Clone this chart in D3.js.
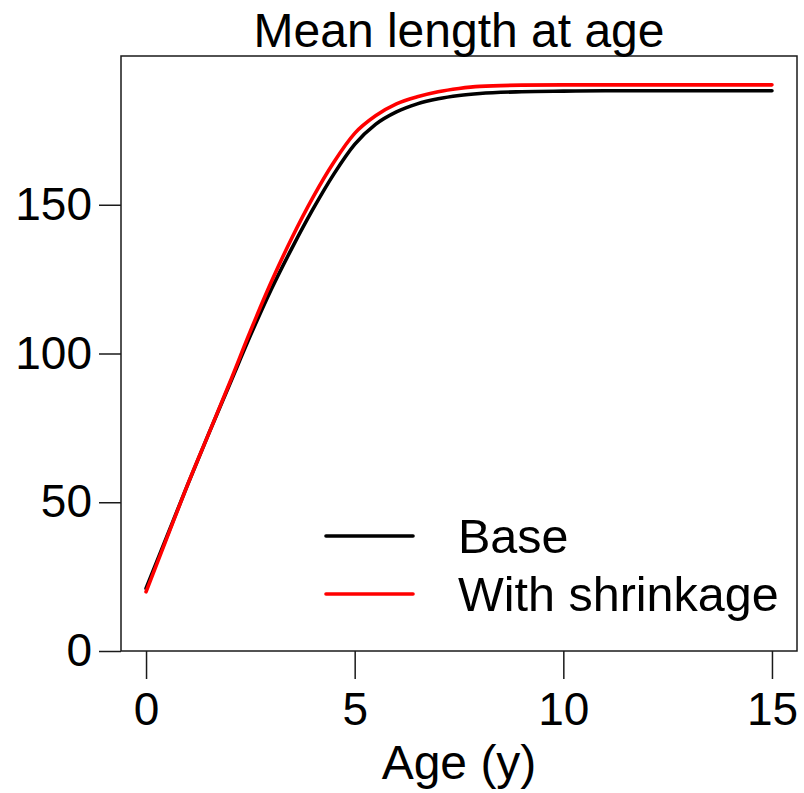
<!DOCTYPE html>
<html>
<head>
<meta charset="utf-8">
<script src="https://cdn.jsdelivr.net/npm/d3@7"></script>
<style>
  html, body { margin: 0; padding: 0; background: #fff; }
  text { font-family: "Liberation Sans", Arial, sans-serif; fill: #000; }
</style>
</head>
<body>
<svg id="chart" width="804" height="793"></svg>
<script>
// Mean length at age (cm) for the base run and the run with shrinkage
const ages = [0, 0.5, 1, 1.5, 2, 2.5, 3, 3.5, 4, 4.5, 5, 5.5, 6, 6.5, 7, 7.5, 8, 9, 10, 11, 12, 13, 14, 15];
const baseLength = [21.0, 38.5, 56.0, 73.0, 89.5, 106.0, 121.5, 135.5, 148.5, 160.3, 170.3, 177.0, 181.2, 183.9, 185.6, 186.7, 187.4, 188.0, 188.2, 188.3, 188.3, 188.3, 188.3, 188.3];
const shrinkLength = [19.9, 38.0, 56.0, 73.0, 90.0, 107.5, 124.0, 139.0, 152.5, 164.3, 174.0, 179.9, 183.9, 186.3, 188.0, 189.1, 189.8, 190.2, 190.3, 190.3, 190.3, 190.3, 190.3, 190.3];

const xTicks = [0, 5, 10, 15];
const yTicks = [0, 50, 100, 150];
const seriesNames = ["Base", "With shrinkage"];
const seriesColors = ["#000000", "#ff0000"];

const svg = d3.select("#chart");
const plot = { left: 121, right: 797, top: 56, bottom: 651 };

// x range padded 4% either side, y axis runs exactly 0–200
const x = d3.scaleLinear().domain([-0.6, 15.6]).range([plot.left, plot.right]);
const y = d3.scaleLinear().domain([0, 200]).range([plot.bottom, plot.top]);

// Curves
const line = d3.line()
  .x(d => x(d[0]))
  .y(d => y(d[1]))
  .curve(d3.curveMonotoneX);

const series = [baseLength, shrinkLength];
series.forEach((vals, i) => {
  svg.append("path")
    .datum(ages.map((a, j) => [a, vals[j]]))
    .attr("d", line)
    .attr("fill", "none")
    .attr("stroke", seriesColors[i])
    .attr("stroke-width", 3.6)
    .attr("stroke-linejoin", "round")
    .attr("stroke-linecap", "round");
});

// Plot frame
svg.append("rect")
  .attr("x", plot.left).attr("y", plot.top)
  .attr("width", plot.right - plot.left)
  .attr("height", plot.bottom - plot.top)
  .attr("fill", "none")
  .attr("stroke", "#1a1a1a")
  .attr("stroke-width", 1.5);

// Bottom axis
const xAxis = svg.append("g")
  .attr("transform", `translate(0,${plot.bottom})`)
  .call(d3.axisBottom(x).tickValues(xTicks).tickSize(28).tickPadding(13).tickFormat(d3.format("d")));
xAxis.select(".domain").remove();
xAxis.selectAll(".tick line").attr("stroke", "#1a1a1a").attr("stroke-width", 1.5);
xAxis.selectAll(".tick text")
  .attr("font-size", 46)
  .attr("font-family", "Liberation Sans, Arial, sans-serif")
  .attr("fill", "#000");

// Left axis
const yAxis = svg.append("g")
  .attr("transform", `translate(${plot.left},0)`)
  .call(d3.axisLeft(y).tickValues(yTicks).tickSize(22).tickPadding(7).tickFormat(d3.format("d")));
yAxis.select(".domain").remove();
yAxis.selectAll(".tick line").attr("stroke", "#1a1a1a").attr("stroke-width", 1.5);
yAxis.selectAll(".tick text")
  .attr("font-size", 46)
  .attr("font-family", "Liberation Sans, Arial, sans-serif")
  .attr("fill", "#000");

// Title and axis label
svg.append("text")
  .attr("x", (plot.left + plot.right) / 2)
  .attr("y", 47)
  .attr("text-anchor", "middle")
  .attr("font-size", 48)
  .text("Mean length at age");

svg.append("text")
  .attr("x", (plot.left + plot.right) / 2)
  .attr("y", 779)
  .attr("text-anchor", "middle")
  .attr("font-size", 48)
  .text("Age (y)");

// Legend
const legend = svg.append("g");
const legendY = [536, 594];
seriesNames.forEach((name, i) => {
  legend.append("line")
    .attr("x1", 326).attr("x2", 413)
    .attr("y1", legendY[i]).attr("y2", legendY[i])
    .attr("stroke", seriesColors[i])
    .attr("stroke-width", 3.6)
    .attr("stroke-linecap", "round");
  legend.append("text")
    .attr("x", 458)
    .attr("y", legendY[i])
    .attr("dy", "0.35em")
    .attr("font-size", 48.5)
    .text(name);
});
</script>
</body>
</html>
